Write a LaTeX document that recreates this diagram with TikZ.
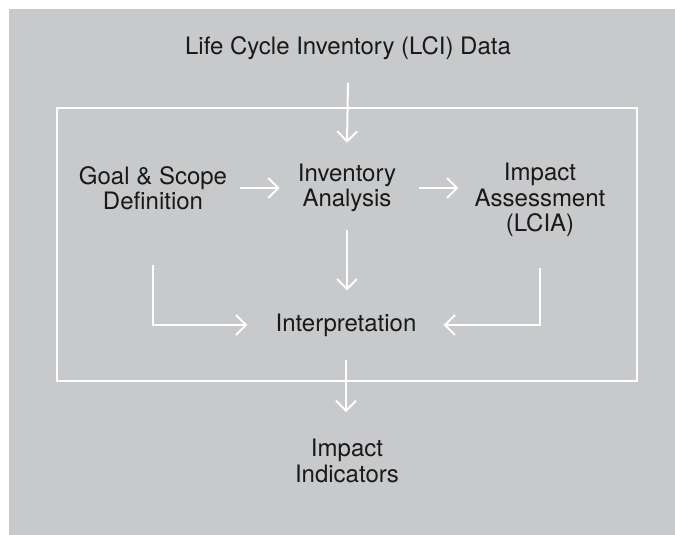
\documentclass[tikz,border=0pt]{standalone}
\usepackage{fontspec}
\setmainfont{TeX Gyre Heros}
\usetikzlibrary{arrows.meta}
\definecolor{bg}{RGB}{200,201,203}
\definecolor{ink}{RGB}{25,25,25}
\begin{document}
\begin{tikzpicture}[x=1pt,y=-1pt,
  lbl/.style={font=\fontsize{24}{25.5}\selectfont, text=ink, align=center, inner sep=0pt},
  arr/.style={draw=white, line width=2pt, -{Straight Barb[length=10pt,width=20pt,line width=2pt]}},
  frame/.style={draw=white, line width=2pt}]
\useasboundingbox (0,0) rectangle (675,535);
\fill[bg] (9,9) rectangle (680,540);
\draw[frame] (57,108) rectangle (637,381);
\node[lbl] (lci) at (348,48) {Life Cycle Inventory (LCI) Data};
\node[lbl] (gs) at (153,188) {Goal \& Scope\\Definition};
\node[lbl] (inv) at (347,188) {Inventory\\Analysis};
\node[lbl] (ia) at (540,200) {Impact\\Assessment\\(LCIA)};
\node[lbl] (interp) at (346,325) {Interpretation};
\node[lbl] (ind) at (347,461) {Impact\\Indicators};
\draw[arr] ([yshift=-23pt]lci.south) -- ([yshift=21pt]inv.north);
\draw[arr, shorten <=13pt, shorten >=18pt] (gs.east) -- (inv.west);
\draw[arr, shorten <=23pt, shorten >=16pt] (inv.east) -- (inv.east -| ia.west);
\draw[arr, shorten <=18pt, shorten >=23pt] (inv.south) -- (interp.north -| inv.south);
\draw[arr, shorten <=55pt, shorten >=28pt] (gs.south) |- (interp.west);
\draw[arr, shorten <=31pt, shorten >=27pt] (ia.south) |- (interp.east);
\draw[arr, shorten <=23pt, shorten >=27pt] (interp.south) -- (ind.north -| interp.south);
\end{tikzpicture}
\end{document}
